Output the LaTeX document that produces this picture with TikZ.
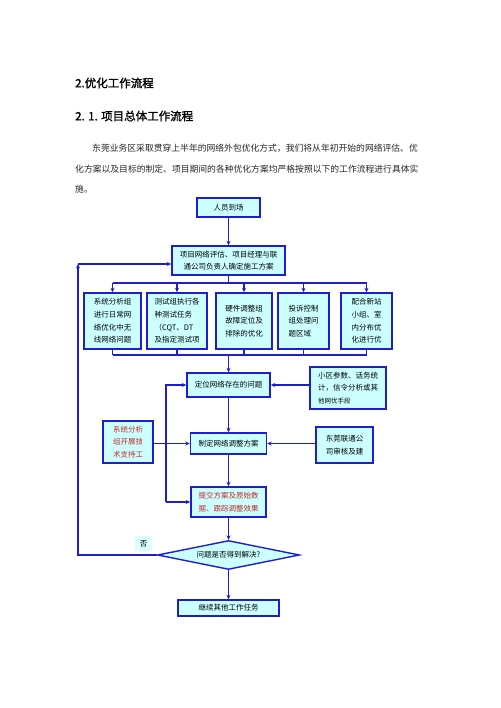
\documentclass[tikz,border=0pt]{standalone}
\usepackage{fontspec}
\setmainfont[AutoFakeBold=1.5]{Noto Sans CJK SC}
\usetikzlibrary{arrows.meta,shapes.geometric}
\definecolor{lnblue}{RGB}{30,30,205}
\definecolor{boxfill}{RGB}{204,255,255}
\definecolor{redtxt}{RGB}{200,40,40}
\begin{document}
\begin{tikzpicture}[x=1pt,y=-1pt,
  box/.style={draw=lnblue,fill=boxfill,line width=1.4pt,inner sep=1pt,font=\fontsize{7.5}{12.7}\selectfont,align=center},
  lbox/.style={box,align=left},
  arr/.style={draw=lnblue,line width=1.4pt,-{Stealth[length=4.5pt,width=4pt]}},
  ln/.style={draw=lnblue,line width=1.4pt},
  head/.style={anchor=west,inner sep=0,font=\fontsize{11.5}{14}\selectfont\bfseries},
  txt/.style={inner sep=0,anchor=west,font=\fontsize{8.8}{10}\selectfont,text=black!85}]
\useasboundingbox[fill=white] (0,0) rectangle (500,708);

\node[head] (h1) at (75,83) {2.优化工作流程};
\node[head] (h2) at (75,116) {2. 1. 项目总体工作流程};
\node[txt] (t1) at (92,148) {东莞业务区采取贯穿上半年的网络外包优化方式，我们将从年初开始的网络评估、优};
\node[txt] (t2) at (75,169) {化方案以及目标的制定、项目期间的各种优化方案均严格按照以下的工作流程进行具体实};
\node[txt] (t3) at (75,189) {施。};

\node[box,minimum width=63pt,minimum height=19pt] (p1) at (228.5,207.5) {人员到场};
\node[box,minimum width=113pt,minimum height=29pt] (p2) at (228.5,260.5) {项目网络评估、项目经理与联\\通公司负责人确定施工方案};

\node[lbox,minimum width=57pt,minimum height=56pt] (b1) at (112.5,321) {系统分析组\\进行日常网\\络优化中无\\线网络问题};
\node[lbox,minimum width=60pt,minimum height=56pt] (b2) at (177,321) {测试组执行各\\种测试任务\\（CQT、DT\\及指定测试项};
\node[lbox,minimum width=56pt,minimum height=56pt] (b3) at (244,321) {硬件调整组\\故障定位及\\排除的优化};
\node[lbox,minimum width=51pt,minimum height=56pt] (b4) at (303.5,321) {投诉控制\\组处理问\\题区域};
\node[lbox,minimum width=51pt,minimum height=56pt] (b5) at (366.5,321) {配合新站\\小组、室\\内分布优\\化进行优};

\node[box,minimum width=83pt,minimum height=24pt] (d1) at (228.5,385) {定位网络存在的问题};
\node[lbox,minimum width=76pt,minimum height=42pt] (s1) at (348,388) {小区参数、话务统\\计，信令分析或其\\{\fontsize{6.5}{8}\selectfont 他网优手段}};
\node[box,minimum width=50pt,minimum height=42pt,text=redtxt] (r1) at (128,442) {系统分析\\组开展技\\术支持工};
\node[box,minimum width=76pt,minimum height=21pt] (d2) at (228.5,443.5) {制定网络调整方案};
\node[box,minimum width=57pt,minimum height=36pt] (s2) at (344.5,445) {东莞联通公\\司审核及建};
\node[box,minimum width=75pt,minimum height=30pt,text=redtxt] (d3) at (228.5,502) {提交方案及原始数\\据、跟踪调整效果};
\node[box,shape=diamond,aspect=4.9,inner sep=0pt,minimum width=142pt,minimum height=29pt] (dia) at (228.5,555) {问题是否得到解决?};
\node[box,minimum width=101pt,minimum height=16pt] (d4) at (228.5,608) {继续其他工作任务};
\node[fill=boxfill!70,minimum width=17pt,minimum height=15pt,inner sep=0pt,font=\fontsize{7.5}{9}\selectfont] (no) at (143.5,543.5) {否};

% flow
\draw[arr] (p1.south) -- (p2.north);
\coordinate (bus1) at (0,283);
\coordinate (bus2) at (0,355);
\draw[ln] (p2.south) -- (p2.south|-bus1);
\draw[ln] (b1.north|-bus1) -- (b5.north|-bus1);
\foreach \b in {b1,b2,b3,b4,b5}{
  \draw[arr] (\b.north|-bus1) -- (\b.north);
  \draw[ln] (\b.south) -- (\b.south|-bus2);
}
\draw[ln] (b1.south|-bus2) -- (b5.south|-bus2);
\draw[arr] (d1.north|-bus2) -- (d1.north);

\draw[arr] (d1.south) -- (d2.north);
\draw[arr] (d2.south) -- (d3.north);
\draw[arr] (d3.south) -- (dia.north);
\draw[arr] (dia.south) -- (d4.north);

\draw[arr] (s1.west|-d1.east) -- (d1.east);
\draw[arr] (s2.west|-d2.east) -- (d2.east);
\draw[arr] (r1.east|-d2.west) -- (d2.west);

\coordinate (lb) at (166,0);
\draw[arr] (lb|-d3.west) |- (d1.west);
\draw[arr] (lb|-d3.west) -- (d3.west);

\coordinate (lp) at (78,264);
\draw[arr] (dia.west) -| (lp);
\draw[arr] (lp) -- (lp-|p2.west);
\end{tikzpicture}
\end{document}
